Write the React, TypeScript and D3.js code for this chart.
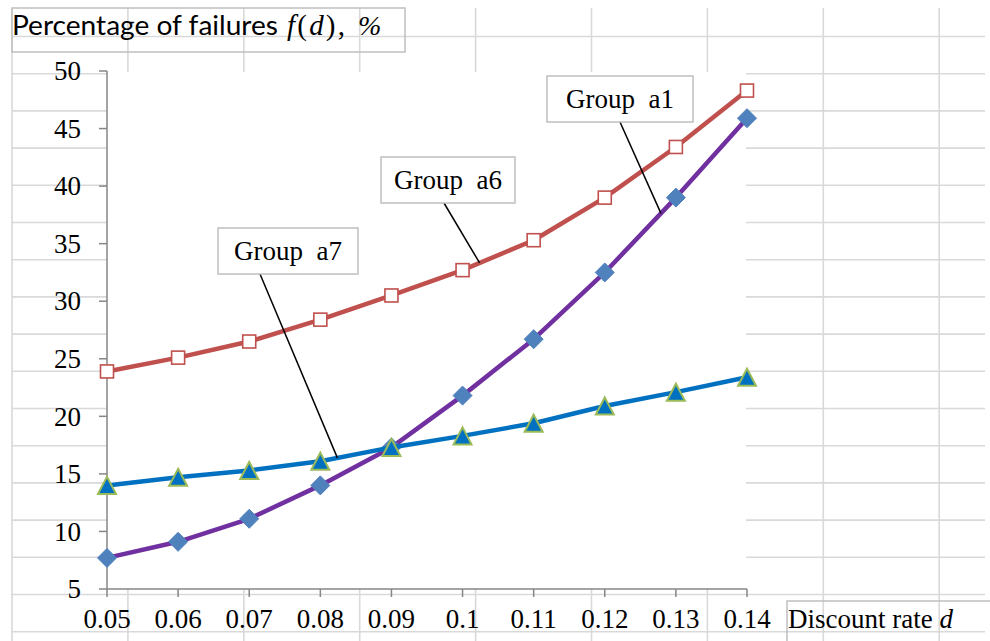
import React from "react";
import * as d3 from "d3";

const xLabels = ["0.05", "0.06", "0.07", "0.08", "0.09", "0.1", "0.11", "0.12", "0.13", "0.14"];
const groupA1 = [7.7, 9.1, 11.1, 14.0, 17.3, 21.8, 26.7, 32.5, 39.0, 45.9];
const groupA6 = [23.9, 25.1, 26.5, 28.4, 30.5, 32.7, 35.3, 39.0, 43.4, 48.3];
const groupA7 = [14.0, 14.7, 15.3, 16.1, 17.3, 18.3, 19.4, 20.9, 22.1, 23.4];
const yTicks = [5, 10, 15, 20, 25, 30, 35, 40, 45, 50];

const W = 990;
const H = 641;
const SERIF = "'Liberation Serif', 'Times New Roman', serif";
const SANS = "'Lato', 'Liberation Sans', sans-serif";
const GRID = "#d9d9d9";
const AXIS = "#868686";
const BOX = "#bfbfbf";

export default function App() {
  const x = d3.scalePoint<string>().domain(xLabels).range([107, 747]);
  const y = d3.scaleLinear().domain([5, 50]).range([589, 71]);

  const colXs = d3.range(9).map((i) => 12 + i * 115.9);
  const rowYs = d3.range(17).map((i) => 36.5 + i * 37.2);

  const line = d3
    .line<number>()
    .x((_, i) => x(xLabels[i]) as number)
    .y((d) => y(d));

  const along = (vals: number[], i: number, t: number) => {
    const x0 = x(xLabels[i]) as number;
    const x1 = x(xLabels[i + 1]) as number;
    return [x0 + (x1 - x0) * t, y(vals[i]) + (y(vals[i + 1]) - y(vals[i])) * t];
  };

  const callouts = [
    { label: "Group  a1", box: [547, 76, 693, 122], from: [620, 122], to: along(groupA1, 7, 0.79) },
    { label: "Group  a6", box: [381, 157, 515, 203], from: [444, 203], to: along(groupA6, 5, 0.24) },
    { label: "Group  a7", box: [218, 228, 358, 274], from: [260, 274], to: along(groupA7, 3, 0.24) },
  ];

  const diamond = (cx: number, cy: number, r: number) =>
    `M${cx},${cy - r}L${cx + r},${cy}L${cx},${cy + r}L${cx - r},${cy}Z`;
  const tri = (cx: number, cy: number, w: number, h: number) =>
    `M${cx},${cy - h / 2}L${cx + w / 2},${cy + h / 2}L${cx - w / 2},${cy + h / 2}Z`;

  return (
    <svg
      width={W}
      height={H}
      style={{ position: "absolute", left: 0, top: 0, background: "#fff" }}
    >
      {/* spreadsheet grid */}
      <g stroke={GRID} strokeWidth={1.6}>
        {colXs.map((cx, i) => (
          <line key={"c" + i} x1={cx} x2={cx} y1={8} y2={H} />
        ))}
        {rowYs.map((ry, i) => (
          <line key={"r" + i} x1={12} x2={985} y1={ry} y2={ry} />
        ))}
      </g>

      {/* title box */}
      <rect x={12} y={8} width={393} height={44} fill="none" stroke={BOX} strokeWidth={1.5} />
      <text x={12} y={35} fontFamily={SANS} fontSize={27} textLength={266} lengthAdjust="spacingAndGlyphs" fill="#000">
        Percentage of failures
      </text>
      <text x={287} y={35} fontFamily={SERIF} fontSize={29} textLength={58} lengthAdjust="spacing" fill="#000">
        <tspan fontStyle="italic">f</tspan>
        <tspan>(</tspan>
        <tspan fontStyle="italic">d</tspan>
        <tspan>),</tspan>
      </text>
      <text x={358} y={35} fontFamily={SERIF} fontSize={28} fontStyle="italic" fill="#000">
        %
      </text>

      {/* plot area */}
      <rect x={107} y={72} width={639} height={517} fill="#fff" />

      {/* y axis */}
      <line x1={107} x2={107} y1={y(50)} y2={y(5)} stroke={AXIS} strokeWidth={1.5} />
      {yTicks.map((t) => (
        <g key={"yt" + t}>
          <line x1={99} x2={107} y1={y(t)} y2={y(t)} stroke={AXIS} strokeWidth={1.5} />
          <text x={81} y={y(t)} dy="0.34em" textAnchor="end" fontFamily={SERIF} fontSize={27} fill="#000">
            {t}
          </text>
        </g>
      ))}

      {/* x axis */}
      <line x1={107} x2={747} y1={589} y2={589} stroke={AXIS} strokeWidth={1.5} />
      {xLabels.map((l) => (
        <g key={"xt" + l}>
          <line x1={x(l)} x2={x(l)} y1={589} y2={597} stroke={AXIS} strokeWidth={1.5} />
          <text x={x(l)} y={628} textAnchor="middle" fontFamily={SERIF} fontSize={27} fill="#000">
            {l}
          </text>
        </g>
      ))}

      {/* x axis title */}
      <path d={`M${W},601H787V${H}`} fill="none" stroke={BOX} strokeWidth={1.5} />
      <text x={788} y={628} fontFamily={SERIF} fontSize={27} fill="#000">
        Discount rate <tspan fontStyle="italic">d</tspan>
      </text>

      {/* series */}
      <path d={line(groupA1) || ""} fill="none" stroke="#7030a0" strokeWidth={4.5} strokeLinejoin="round" />
      {groupA1.map((v, i) => (
        <path key={"d" + i} d={diamond(x(xLabels[i]) as number, y(v), 9.5)} fill="#4f81bd" stroke="#4f81bd" strokeWidth={1} />
      ))}

      <path d={line(groupA6) || ""} fill="none" stroke="#c0504d" strokeWidth={4.5} strokeLinejoin="round" />
      {groupA6.map((v, i) => (
        <rect
          key={"s" + i}
          x={(x(xLabels[i]) as number) - 6.5}
          y={y(v) - 6.5}
          width={13}
          height={13}
          fill="#fff"
          stroke="#c0504d"
          strokeWidth={1.6}
        />
      ))}

      <path d={line(groupA7) || ""} fill="none" stroke="#0070c0" strokeWidth={4.5} strokeLinejoin="round" />
      {groupA7.map((v, i) => (
        <path key={"t" + i} d={tri(x(xLabels[i]) as number, y(v), 18, 17)} fill="#0070c0" stroke="#9bbb59" strokeWidth={2} strokeLinejoin="miter" />
      ))}

      {/* callouts */}
      {callouts.map((c) => (
        <g key={c.label}>
          <line x1={c.from[0]} y1={c.from[1]} x2={c.to[0]} y2={c.to[1]} stroke="#000" strokeWidth={1.5} />
          <rect x={c.box[0]} y={c.box[1]} width={c.box[2] - c.box[0]} height={c.box[3] - c.box[1]} fill="#fff" stroke={BOX} strokeWidth={1.5} />
          <text
            x={(c.box[0] + c.box[2]) / 2}
            y={c.box[3] - 14}
            textAnchor="middle"
            fontFamily={SERIF}
            fontSize={27}
            fill="#000"
            style={{ whiteSpace: "pre" }}
          >
            {c.label}
          </text>
        </g>
      ))}
    </svg>
  );
}
